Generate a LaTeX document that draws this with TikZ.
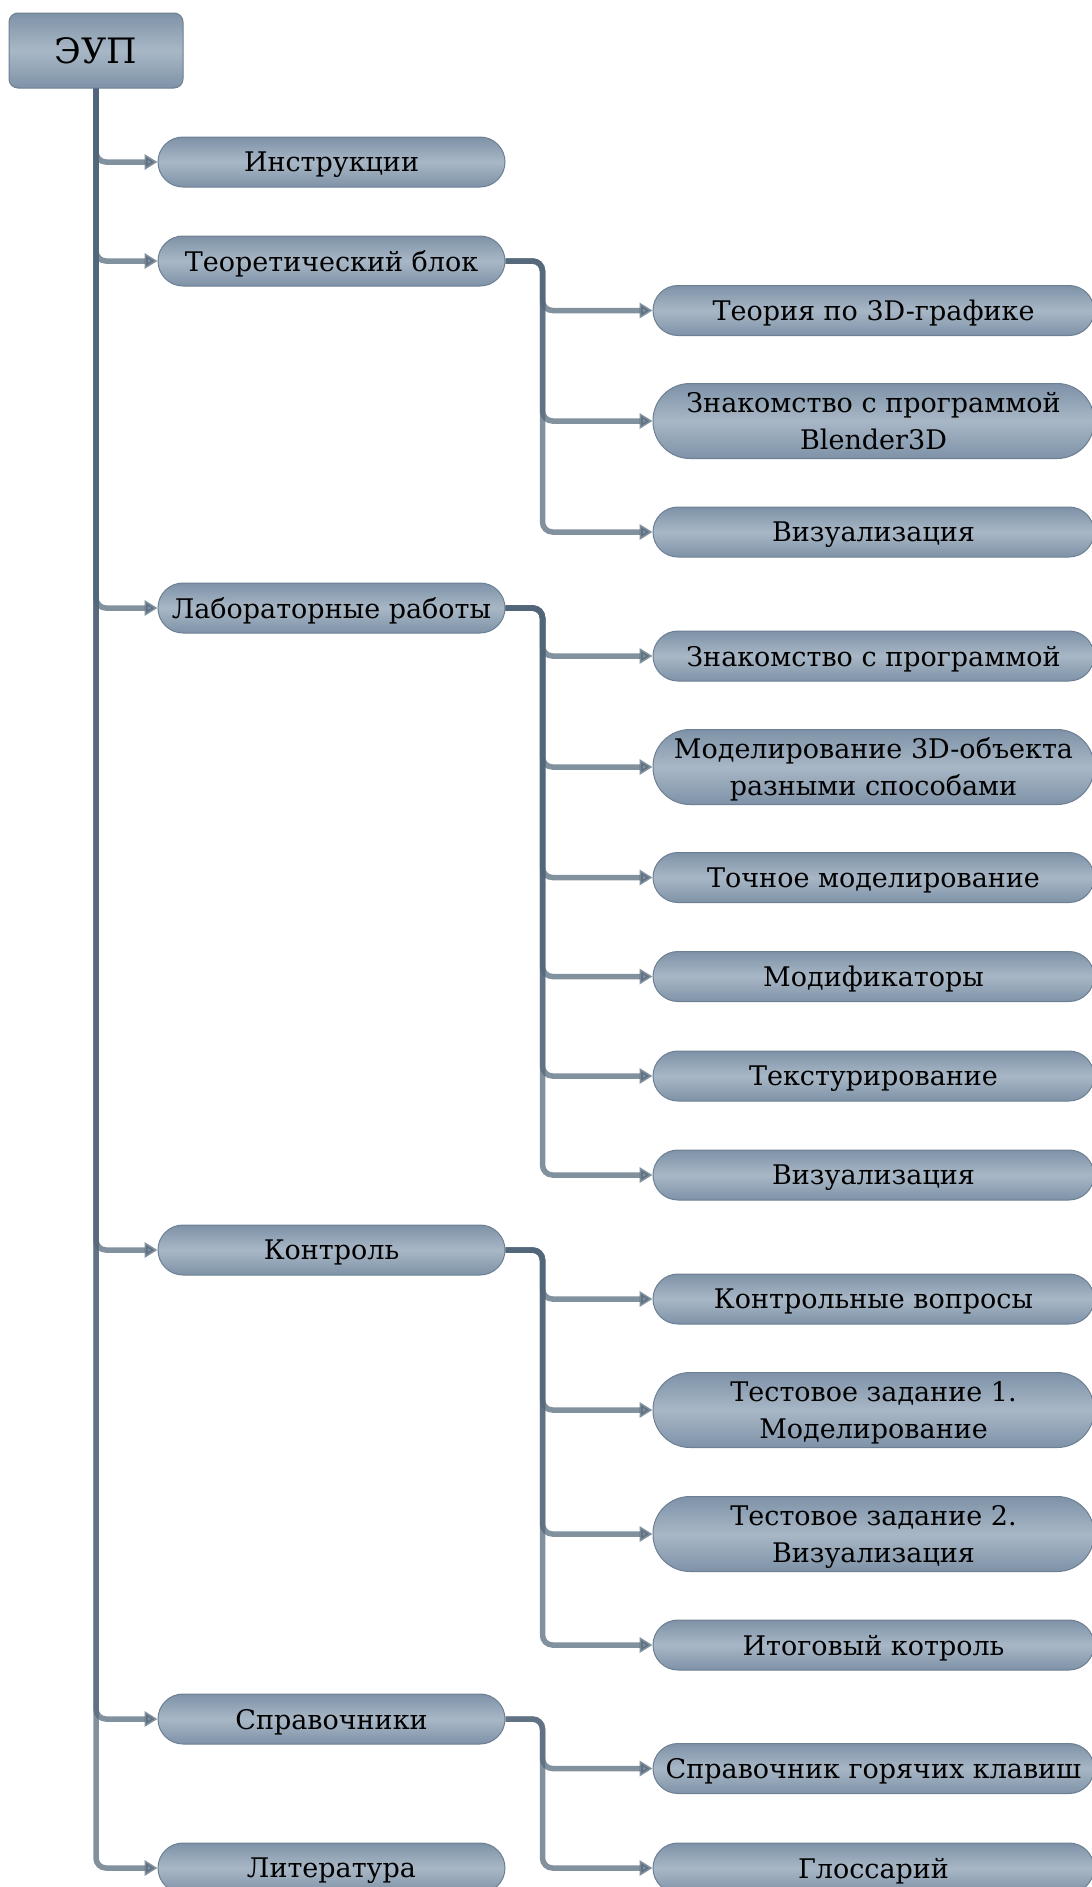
\documentclass[tikz,border=0pt]{standalone}
\usepackage{fontspec}
\setmainfont{DejaVu Serif}
\usetikzlibrary{arrows.meta}
\definecolor{boxedge}{RGB}{108,127,147}
\definecolor{boxdark}{RGB}{126,146,167}
\definecolor{boxlight}{RGB}{168,183,198}
\definecolor{linkcol}{RGB}{82,102,121}
\tikzset{
  box/.style={draw=boxedge, line width=1pt, top color=boxdark, bottom color=boxdark,
    middle color=boxlight, inner sep=0pt, align=center, text=black, text depth=0pt,
    font=\fontsize{27}{37}\selectfont},
  topbox/.style={box, rounded corners=9pt, minimum width=174pt, minimum height=75pt,
    font=\fontsize{35}{40}\selectfont},
  sect/.style={box, rounded corners=25pt, minimum width=347pt, minimum height=50pt},
  item/.style={box, rounded corners=25pt, minimum width=441pt, minimum height=50pt},
  item2/.style={box, rounded corners=37pt, minimum width=441pt, minimum height=75pt},
  link/.style={draw=linkcol, opacity=0.72, line width=5.5pt, rounded corners=10pt,
    -{Triangle[length=13pt,width=15pt,fill=linkcol]}}
}
\begin{document}
\begin{tikzpicture}[x=1pt,y=-1pt]
  \clip (0,0) rectangle (1092,1887);

  \node[topbox] (eup) at (96,50.5) {ЭУП};

  \node[sect] (instr) at (331.5,162) {Инструкции};
  \node[sect] (teor) at (331.5,261) {Теоретический блок};
  \node[sect] (lab) at (331.5,608) {Лабораторные работы};
  \node[sect] (kontr) at (331.5,1250) {Контроль};
  \node[sect] (sprav) at (331.5,1719) {Справочники};
  \node[sect] (lit) at (331.5,1868) {Литература};

  \node[item] (t1) at (873.5,310.5) {Теория по 3D-графике};
  \node[item2] (t2) at (873.5,421) {Знакомство с программой\\Blender3D};
  \node[item] (t3) at (873.5,532) {Визуализация};

  \node[item] (l1) at (873.5,656) {Знакомство с программой};
  \node[item2] (l2) at (873.5,767) {Моделирование 3D-объекта\\разными способами};
  \node[item] (l3) at (873.5,877.5) {Точное моделирование};
  \node[item] (l4) at (873.5,976.5) {Модификаторы};
  \node[item] (l5) at (873.5,1076) {Текстурирование};
  \node[item] (l6) at (873.5,1175) {Визуализация};

  \node[item] (k1) at (873.5,1299) {Контрольные вопросы};
  \node[item2] (k2) at (873.5,1410) {Тестовое задание 1.\\Моделирование};
  \node[item2] (k3) at (873.5,1534) {Тестовое задание 2.\\Визуализация};
  \node[item] (k4) at (873.5,1645) {Итоговый котроль};

  \node[item] (s1) at (873.5,1768.5) {Справочник горячих клавиш};
  \node[item] (s2) at (873.5,1868) {Глоссарий};

  \draw[link] (eup.south) |- (instr.west);
  \draw[link] (eup.south) |- (teor.west);
  \draw[link] (eup.south) |- (lab.west);
  \draw[link] (eup.south) |- (kontr.west);
  \draw[link] (eup.south) |- (sprav.west);
  \draw[link] (eup.south) |- (lit.west);

  \draw[link] (teor.east) -- ++(37,0) |- (t1.west);
  \draw[link] (teor.east) -- ++(37,0) |- (t2.west);
  \draw[link] (teor.east) -- ++(37,0) |- (t3.west);

  \draw[link] (lab.east) -- ++(37,0) |- (l1.west);
  \draw[link] (lab.east) -- ++(37,0) |- (l2.west);
  \draw[link] (lab.east) -- ++(37,0) |- (l3.west);
  \draw[link] (lab.east) -- ++(37,0) |- (l4.west);
  \draw[link] (lab.east) -- ++(37,0) |- (l5.west);
  \draw[link] (lab.east) -- ++(37,0) |- (l6.west);

  \draw[link] (kontr.east) -- ++(37,0) |- (k1.west);
  \draw[link] (kontr.east) -- ++(37,0) |- (k2.west);
  \draw[link] (kontr.east) -- ++(37,0) |- (k3.west);
  \draw[link] (kontr.east) -- ++(37,0) |- (k4.west);

  \draw[link] (sprav.east) -- ++(37,0) |- (s1.west);
  \draw[link] (sprav.east) -- ++(37,0) |- (s2.west);
\end{tikzpicture}
\end{document}
